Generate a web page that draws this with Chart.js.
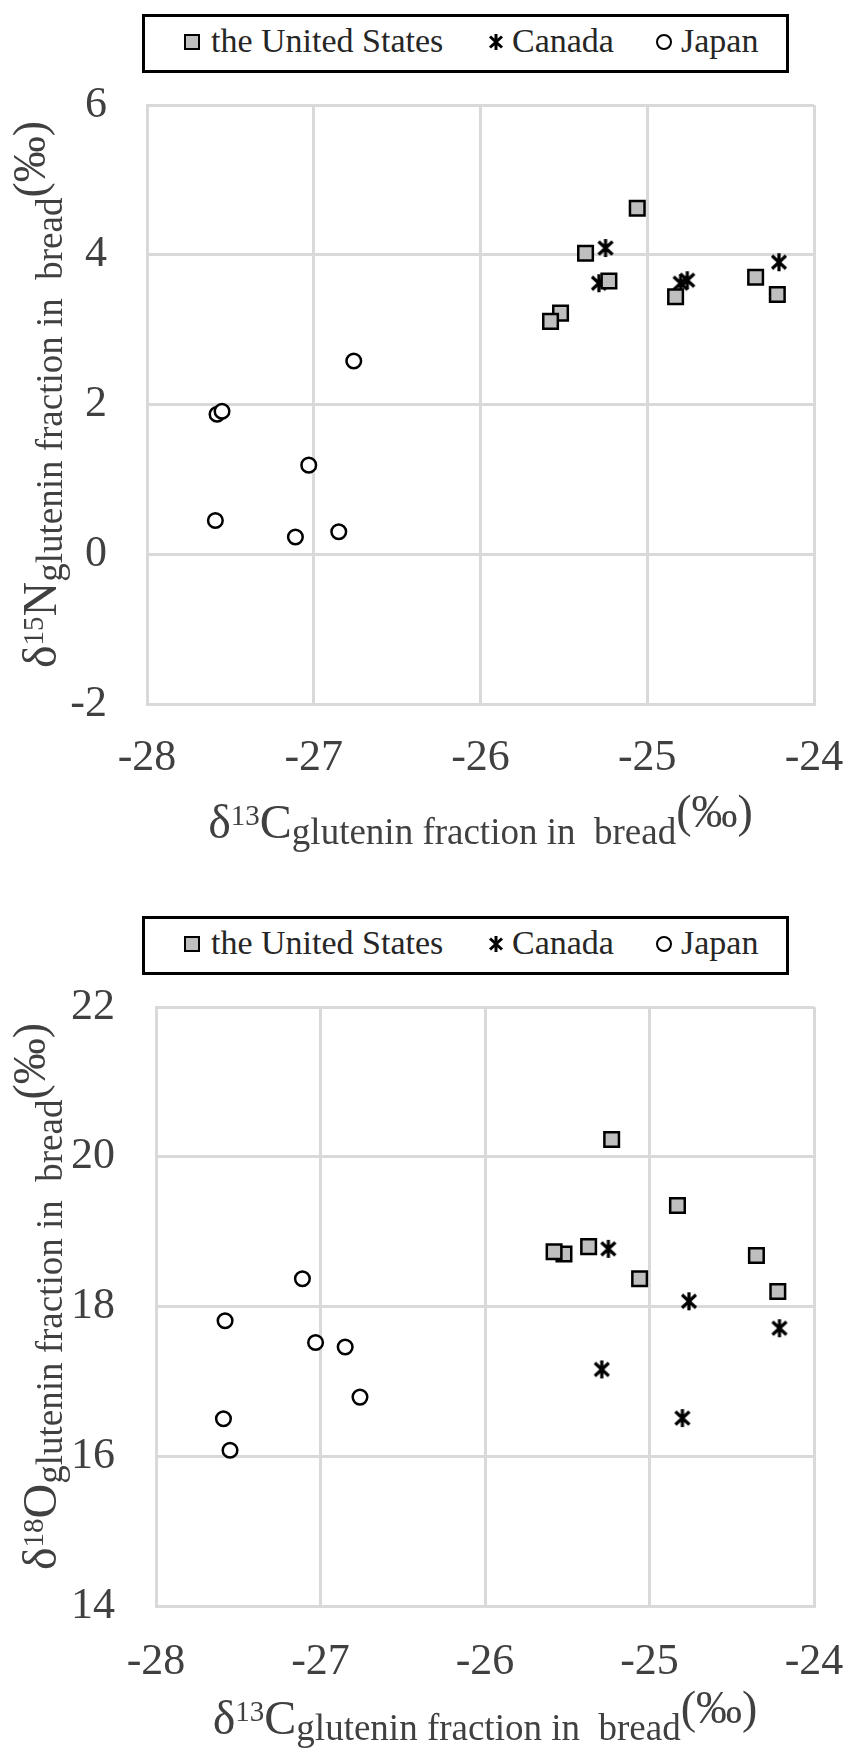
<!DOCTYPE html>
<html>
<head>
<meta charset="utf-8">
<script src="https://cdn.jsdelivr.net/npm/chart.js@4.4.1/dist/chart.umd.min.js"></script>
<style>
  body { margin: 0; background: #fff; width: 849px; height: 1754px; position: relative; overflow: hidden; font-family: 'Liberation Serif'; }
  .panel { position: absolute; left: 0; width: 849px; }
  .legend { position: absolute; left: 142px; width: 647px; height: 59px; box-sizing: border-box; border: 3px solid #000; background: #fff; z-index: 2; }
  .legend .txt { position: absolute; top: 7px; font-family: 'Liberation Serif'; font-size: 34px; line-height: 34px; color: #262626; white-space: pre; }
  .legend .mk { position: absolute; top: 17px; width: 16px; height: 16px; box-sizing: border-box; }
  .legend .sq { background: #bfbfbf; border: 2.5px solid #000; }
  .legend .ci { background: #fff; border: 2.5px solid #000; border-radius: 50%; }
  .legend svg.mk { overflow: visible; }
</style>
</head>
<body>
<div class="panel" style="top:0;height:880px;">
  <div class="legend" id="legend1" style="top:14px;"></div>
  <canvas id="chartN" width="849" height="880"></canvas>
</div>
<div class="panel" style="top:880px;height:874px;">
  <div class="legend" id="legend2" style="top:36px;"></div>
  <canvas id="chartO" width="849" height="874"></canvas>
</div>
<script>
// countries (series)
const countries = ['the United States', 'Canada', 'Japan'];

// d13C of glutenin fraction in bread
const usaC = [-25.06, -25.37, -25.23, -25.52, -25.58, -24.83, -24.35, -24.22];
const canC = [-25.25, -25.29, -24.80, -24.76, -24.21];
const japC = [-26.76, -27.58, -27.55, -27.03, -27.59, -27.11, -26.85];

// d15N (top chart)
const usaN = [4.62, 4.02, 3.65, 3.22, 3.11, 3.44, 3.70, 3.47];
const canN = [4.09, 3.62, 3.62, 3.66, 3.90];
const japN = [2.58, 1.87, 1.91, 1.19, 0.45, 0.23, 0.30];

// d18O (bottom chart)
const usaO = [18.37, 18.80, 20.23, 18.70, 18.73, 19.35, 18.68, 18.20];
const canO = [18.77, 17.16, 16.51, 18.07, 17.71];
const japO = [16.79, 17.81, 16.08, 17.52, 16.50, 18.37, 17.46];

// tick labels
const xTicks = [-28, -27, -26, -25, -24];
const nTicks = [-2, 0, 2, 4, 6];
const oTicks = [14, 16, 18, 20, 22];

const FONT = "'Liberation Serif'";
const GRID = '#d9d9d9';
const TEXT = '#404040';
Chart.defaults.font.family = FONT;

// star marker: X with a vertical bar
function starMarker() {
  const c = document.createElement('canvas');
  c.width = 22; c.height = 22;
  const g = c.getContext('2d');
  g.strokeStyle = '#000';
  g.lineWidth = 3.2;
  g.beginPath();
  g.moveTo(4, 4.5); g.lineTo(18, 17.5);
  g.moveTo(18, 4.5); g.lineTo(4, 17.5);
  g.moveTo(11, 2); g.lineTo(11, 20);
  g.stroke();
  return c;
}
const star = starMarker();

function pairs(xs, ys) {
  return xs.map((x, i) => ({ x: x, y: ys[i] }));
}

function buildLegend(id) {
  const el = document.getElementById(id);
  const starSvg = '<svg class="mk" style="left:343px" width="16" height="16" viewBox="0 0 16 16">' +
    '<path d="M2 2.5L14 13.5M14 2.5L2 13.5M8 0L8 16" stroke="#000" stroke-width="3" fill="none"/></svg>';
  el.innerHTML =
    '<div class="mk sq" style="left:39px"></div><span class="txt" style="left:66px">' + countries[0] + '</span>' +
    starSvg + '<span class="txt" style="left:367px">' + countries[1] + '</span>' +
    '<div class="mk ci" style="left:511px"></div><span class="txt" style="left:536px">' + countries[2] + '</span>';
}

function drawParts(ctx, parts) {
  let total = 0;
  parts.forEach(p => {
    ctx.font = p.size + 'px ' + FONT;
    p.w = ctx.measureText(p.t).width;
    total += p.w;
  });
  let x = -total / 2;
  parts.forEach(p => {
    ctx.font = p.size + 'px ' + FONT;
    ctx.fillText(p.t, x, p.dy);
    x += p.w;
  });
}

function titleParts(letter, sup) {
  return [
    { t: 'δ', size: 48, dy: 0 },
    { t: sup, size: 29, dy: -13 },
    { t: letter, size: 48, dy: 0 },
    { t: 'glutenin fraction in  bread', size: 37, dy: 6 },
    { t: '(‰)', size: 46, dy: -11 }
  ];
}

const axisTitles = {
  id: 'axisTitles',
  afterDraw(chart, args, opts) {
    const ctx = chart.ctx;
    const a = chart.chartArea;
    ctx.save();
    ctx.fillStyle = TEXT;
    ctx.textAlign = 'left';
    ctx.textBaseline = 'alphabetic';
    ctx.save();
    ctx.translate((a.left + a.right) / 2, a.bottom + opts.xGap);
    drawParts(ctx, titleParts('C', '13'));
    ctx.restore();
    ctx.save();
    ctx.translate(opts.yBase, (a.top + a.bottom) / 2 + opts.yShift);
    ctx.rotate(-Math.PI / 2);
    drawParts(ctx, titleParts(opts.yLetter, opts.ySup));
    ctx.restore();
    ctx.restore();
  }
};

function makeChart(id, yVals, yTicks, geo) {
  const ctx = document.getElementById(id).getContext('2d');
  return new Chart(ctx, {
    type: 'scatter',
    data: {
      datasets: [
        {
          label: countries[0],
          data: pairs(usaC, yVals[0]),
          pointStyle: 'rect',
          pointRadius: 10.3,
          backgroundColor: '#bfbfbf',
          borderColor: '#000',
          borderWidth: 2.5
        },
        {
          label: countries[1],
          data: pairs(canC, yVals[1]),
          pointStyle: star,
          pointRadius: 11,
          borderColor: '#000'
        },
        {
          label: countries[2],
          data: pairs(japC, yVals[2]),
          pointStyle: 'circle',
          pointRadius: 7.3,
          backgroundColor: '#fff',
          borderColor: '#000',
          borderWidth: 2.5
        }
      ]
    },
    options: {
      responsive: false,
      animation: false,
      devicePixelRatio: 1,
      layout: { padding: { top: geo.top, right: 849 - geo.right, left: 0, bottom: 0 } },
      plugins: {
        legend: { display: false },
        tooltip: { enabled: false },
        axisTitles: { xGap: geo.xGap, yBase: 56, yShift: -10, yLetter: geo.letter, ySup: geo.sup }
      },
      scales: {
        x: {
          type: 'linear',
          min: xTicks[0],
          max: xTicks[xTicks.length - 1],
          afterBuildTicks: s => { s.ticks = xTicks.map(v => ({ value: v })); },
          afterFit: s => {
            s.height = geo.height - geo.bottom;
            s.paddingLeft = 0;
            s.paddingRight = 0;
          },
          ticks: { padding: geo.xPad, color: TEXT, font: { family: FONT, size: 44 } },
          grid: { color: GRID, lineWidth: 3, drawTicks: false },
          border: { color: GRID, width: 3 }
        },
        y: {
          type: 'linear',
          min: yTicks[0],
          max: yTicks[yTicks.length - 1],
          afterBuildTicks: s => { s.ticks = yTicks.map(v => ({ value: v })); },
          afterFit: s => {
            s.width = geo.left;
            s.paddingTop = 0;
            s.paddingBottom = 0;
          },
          ticks: { padding: geo.yPad, color: TEXT, font: { family: FONT, size: 44 } },
          grid: { color: GRID, lineWidth: 3, drawTicks: false },
          border: { color: GRID, width: 3 }
        }
      }
    },
    plugins: [axisTitles]
  });
}

buildLegend('legend1');
buildLegend('legend2');

makeChart('chartN', [usaN, canN, japN], nTicks,
  { top: 105, bottom: 704, left: 147, right: 814, height: 880, xPad: 28, yPad: 40, xGap: 134, letter: 'N', sup: '15' });
makeChart('chartO', [usaO, canO, japO], oTicks,
  { top: 127, bottom: 726, left: 156, right: 814, height: 874, xPad: 30, yPad: 41, xGap: 128, letter: 'O', sup: '18' });
</script>
</body>
</html>
